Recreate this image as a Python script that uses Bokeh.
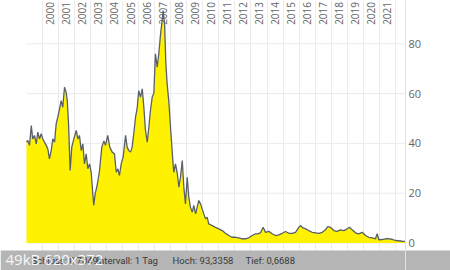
import math
from bokeh.plotting import figure
from bokeh.models import FixedTicker, Grid, Range1d, Label, Span
from bokeh.core.properties import value
from bokeh.embed import file_html
from bokeh.resources import INLINE

# ---- data (decimal years, price) ----
dates = [
    1999.02, 1999.10, 1999.21, 1999.32, 1999.41, 1999.52, 1999.63, 1999.73, 1999.83, 1999.94,
    2000.04, 2000.14, 2000.25, 2000.35, 2000.45, 2000.56, 2000.66, 2000.77, 2000.87, 2000.97,
    2001.08, 2001.18, 2001.28, 2001.39, 2001.49, 2001.56, 2001.64, 2001.74, 2001.84, 2001.97,
    2002.12, 2002.22, 2002.32, 2002.43, 2002.53, 2002.63, 2002.74, 2002.84, 2002.95,
    2003.05, 2003.15, 2003.21, 2003.30, 2003.42, 2003.57, 2003.71, 2003.84, 2003.94,
    2004.08, 2004.21, 2004.36, 2004.50, 2004.61, 2004.71, 2004.81, 2004.92,
    2005.04, 2005.19, 2005.29, 2005.39, 2005.50, 2005.60, 2005.70, 2005.81, 2005.92,
    2006.01, 2006.12, 2006.23, 2006.33, 2006.43, 2006.54, 2006.64, 2006.74, 2006.85, 2006.95,
    2007.05, 2007.16, 2007.26, 2007.37, 2007.47, 2007.53, 2007.62, 2007.70, 2007.78, 2007.88, 2007.99,
    2008.09, 2008.19, 2008.30, 2008.41, 2008.51, 2008.61, 2008.72, 2008.82, 2008.92,
    2009.03, 2009.13, 2009.23, 2009.34, 2009.44, 2009.55, 2009.65, 2009.75, 2009.86, 2009.96,
    2010.06, 2010.17, 2010.27, 2010.37, 2010.59, 2010.79,
    2011.00, 2011.21, 2011.41, 2011.62, 2011.83,
    2012.04, 2012.24, 2012.45, 2012.66, 2012.86,
    2013.08, 2013.28, 2013.39, 2013.59, 2013.76, 2013.90,
    2014.11, 2014.32, 2014.53, 2014.73, 2014.94,
    2015.15, 2015.36, 2015.57, 2015.77, 2015.98,
    2016.08, 2016.19, 2016.40, 2016.60, 2016.81,
    2017.02, 2017.22, 2017.44, 2017.64, 2017.78, 2017.95,
    2018.16, 2018.37, 2018.57, 2018.78, 2018.99,
    2019.13, 2019.30, 2019.51, 2019.71, 2019.93,
    2020.13, 2020.34, 2020.55, 2020.75, 2020.86, 2020.96,
    2021.17, 2021.38, 2021.58, 2021.79, 2022.00,
    2022.20, 2022.42, 2022.60,
]
prices = [
    40.5, 41.2, 39.2, 47.2, 41.8, 43.2, 39.8, 44.5, 41.8, 43.9,
    41.8, 40.5, 39.2, 37.8, 33.8, 37.1, 41.8, 40.5, 47.9, 50.5,
    53.9, 57.2, 54.5, 62.6, 60.6, 57.2, 47.9, 29.1, 38.5, 41.8,
    45.2, 41.8, 43.2, 37.1, 39.8, 31.8, 35.8, 29.8, 31.8,
    28.4, 19.8, 15.1, 19.8, 23.1, 29.1, 38.5, 41.0, 39.2,
    43.2, 38.5, 36.5, 35.8, 28.4, 29.8, 27.1, 31.8,
    34.5, 43.2, 38.5, 37.1, 36.5, 38.5, 43.9, 50.5, 54.5,
    61.2, 58.6, 61.9, 54.5, 45.2, 40.5, 46.5, 53.2, 58.6, 60.0,
    76.0, 70.6, 76.0, 84.0, 89.4, 93.3, 88.0, 72.0, 63.9, 57.2, 46.5,
    37.1, 28.4, 31.8, 28.0, 22.4, 26.4, 33.1, 22.4, 15.7,
    26.4, 18.4, 14.4, 12.4, 15.1, 11.7, 14.4, 17.1, 15.7, 13.7,
    11.7, 9.7, 10.4, 7.7, 7.0, 6.3,
    5.7, 5.0, 3.9, 3.0, 2.3,
    2.3, 2.1, 1.7, 1.7, 2.1,
    3.0, 3.7, 3.7, 4.1, 6.3, 4.3,
    4.7, 3.7, 3.0, 3.3, 3.9,
    4.6, 3.9, 3.9, 4.3, 6.3,
    7.0, 6.3, 5.7, 5.0, 4.3,
    4.1, 3.9, 4.3, 5.3, 6.6, 6.3,
    5.0, 4.7, 5.3, 5.0, 5.7,
    6.3, 5.3, 4.1, 3.7, 4.3,
    3.0, 2.3, 2.1, 1.7, 3.7, 1.3,
    1.4, 1.7, 1.7, 1.5, 1.0,
    0.9, 0.7, 0.67,
]
year_ticks = list(range(2000, 2023))
year_labels = [str(y) for y in range(2000, 2022)]
y_ticks = [0, 20, 40, 60, 80]
y_tick_labels = [str(v) for v in y_ticks]

footer_texts = ["Intervall: 1 Tag", "Hoch: 93,3358", "Tief: 0,6688"]
footer_x = [96, 172, 245]
hidden_text = "Schluss: 0,7049"
watermark = "49kB 620x372"

FONT = "Open Sans"
GRID = "#ebebeb"
LABEL = "#666666"

# plot-area extent (data units) of the chart inside the full-canvas frame
X0, X1 = 1999.022, 2022.622
PX_PER_YEAR = 16.06
PX_PER_UNIT = 2.49
Y_TOP = 97.39          # value at top edge
Y_FOOT = -3.01         # value at the top of the grey footer (250 px)

p = figure(width=450, height=270, output_backend="svg", toolbar_location=None,
           x_axis_location=None, y_axis_location=None,
           x_range=Range1d(X0 - 26 / PX_PER_YEAR, X1 + 45 / PX_PER_YEAR),
           y_range=Range1d(Y_TOP - 270 / PX_PER_UNIT, Y_TOP),
           min_border=0)
p.outline_line_color = None
p.background_fill_color = "white"
p.border_fill_color = "white"
for g in list(p.grid):
    g.visible = False

# vertical year grid lines (full height; footer covers the bottom)
p.add_layout(Grid(dimension=0, ticker=FixedTicker(ticks=year_ticks), grid_line_color=GRID), "center")
# horizontal grid lines only across the chart area
p.segment(x0=[X0] * len(y_ticks), x1=[X1] * len(y_ticks), y0=y_ticks, y1=y_ticks,
          line_color=GRID, line_width=1)
# right border line of the chart
p.add_layout(Span(location=X1, dimension="height", line_color="#e2e2e2", line_width=1))

# area + line
p.varea(x=dates, y1=[0] * len(prices), y2=prices, fill_color="#fff200")
p.line(x=dates, y=prices, line_color="#59606b", line_width=1.3)

# right-side value labels
p.text(x=[X1 + 3 / PX_PER_YEAR] * len(y_ticks), y=y_ticks, text=y_tick_labels,
       text_align="left", text_baseline="middle",
       text_font=value(FONT), text_font_size="11px", text_color=LABEL)

# year labels (vertical, at mid-year, top of the plot)
p.text(x=[int(s) + 0.5 for s in year_labels], y=[Y_TOP - 1.5 / PX_PER_UNIT] * len(year_labels),
       text=year_labels, angle=math.pi / 2, text_align="right", text_baseline="middle",
       text_font=value(FONT), text_font_size="10px", text_color=LABEL)

# grey footer bar
p.quad(left=[p.x_range.start], right=[p.x_range.end], bottom=[p.y_range.start], top=[Y_FOOT],
       fill_color="#b5b5b5", line_color=None)

FOOT_FONT = "Roboto"
p.add_layout(Label(x=31, y=10, x_units="screen", y_units="screen", text=hidden_text,
                   text_align="left", text_baseline="middle", text_font=FOOT_FONT,
                   text_font_size="9.5px", text_color="#3a3a3a"))
for t, xx in zip(footer_texts, footer_x):
    p.add_layout(Label(x=xx, y=10, x_units="screen", y_units="screen", text=t,
                       text_align="left", text_baseline="middle", text_font=FOOT_FONT,
                       text_font_size="9.5px", text_color="#3a3a3a"))
p.add_layout(Label(x=5, y=12, x_units="screen", y_units="screen", text=watermark,
                   text_align="left", text_baseline="middle", text_font=FONT,
                   text_font_size="15px", text_color="white", text_alpha=0.92))

open("out.html", "w").write(file_html(p, INLINE))
